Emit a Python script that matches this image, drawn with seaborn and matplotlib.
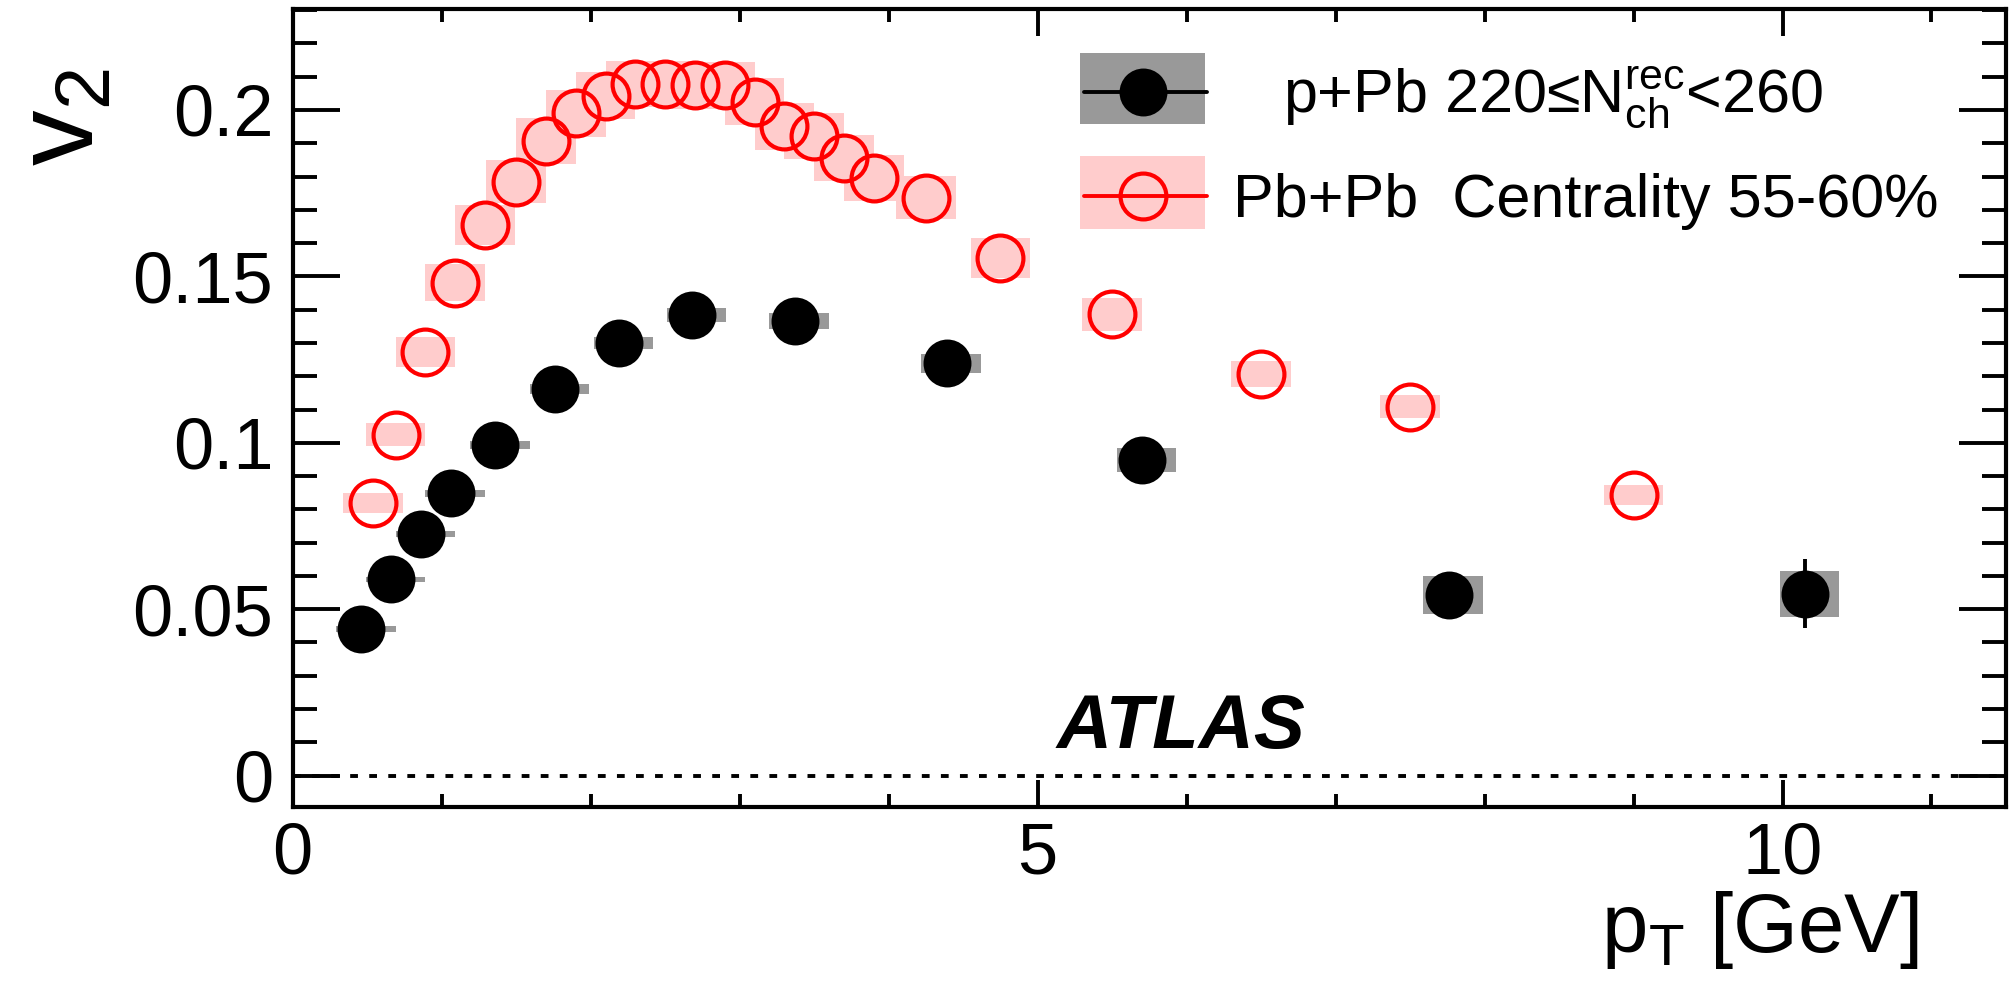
import numpy as np
import matplotlib
matplotlib.use("Agg")
import matplotlib.pyplot as plt
import seaborn as sns
from matplotlib.patches import Rectangle
from matplotlib.lines import Line2D
from matplotlib.ticker import MultipleLocator, FixedLocator, FixedFormatter

# ---------------- data ----------------
ppb_pt = [0.46, 0.66, 0.86, 1.06, 1.36, 1.76, 2.19, 2.68, 3.37, 4.39, 5.70, 7.76, 10.15]
ppb_v2 = [0.0440, 0.0590, 0.0725, 0.0848, 0.0994, 0.1163, 0.1299, 0.1384, 0.1366,
          0.1239, 0.0949, 0.0543, 0.0546]
ppb_stat = [0.0008, 0.0008, 0.0008, 0.0009, 0.0010, 0.0012, 0.0015, 0.0018, 0.0020,
            0.0025, 0.0035, 0.0060, 0.0104]
ppb_sys = [0.0008, 0.0008, 0.0009, 0.0010, 0.0012, 0.0015, 0.0018, 0.0020, 0.0025,
           0.0028, 0.0036, 0.0057, 0.0069]

pbpb_pt = [0.54, 0.69, 0.89, 1.09, 1.29, 1.50, 1.70, 1.90, 2.10, 2.30, 2.50, 2.70,
           2.90, 3.10, 3.30, 3.50, 3.70, 3.90, 4.25, 4.75, 5.50, 6.50, 7.50, 9.00]
pbpb_v2 = [0.0820, 0.1024, 0.1274, 0.1481, 0.1655, 0.1785, 0.1907, 0.1990, 0.2043,
           0.2078, 0.2078, 0.2074, 0.2074, 0.2025, 0.1951, 0.1922, 0.1856, 0.1796,
           0.1737, 0.1555, 0.1386, 0.1207, 0.1108, 0.0843]
pbpb_sys = [0.0030, 0.0035, 0.0045, 0.0055, 0.0060, 0.0065, 0.0070, 0.0070, 0.0070,
            0.0070, 0.0070, 0.0070, 0.0070, 0.0070, 0.0070, 0.0070, 0.0070, 0.0070,
            0.0065, 0.0060, 0.0050, 0.0040, 0.0035, 0.0030]

xticks = [0, 5, 10]
xtick_labels = ["0", "5", "10"]
yticks = [0, 0.05, 0.1, 0.15, 0.2]
ytick_labels = ["0", "0.05", "0.1", "0.15", "0.2"]

label_ppb = "p+Pb 220\u2264$N_{ch}^{rec}$<260"
label_pbpb = "Pb+Pb  Centrality 55-60%"

# ---------------- style ----------------
sns.set_style("ticks")
plt.rcParams["font.family"] = ["Liberation Sans", "DejaVu Sans"]
plt.rcParams["mathtext.default"] = "regular"
plt.rcParams["text.color"] = "black"
plt.rcParams["axes.labelcolor"] = "black"
plt.rcParams["xtick.color"] = "black"
plt.rcParams["ytick.color"] = "black"
plt.rcParams["axes.edgecolor"] = "black"

fig = plt.figure(figsize=(20.09, 9.89), dpi=100)
ax = fig.add_axes([0.1457, 0.1845, 0.9985 - 0.1457, 0.9904 - 0.1845])

pbpb_x = np.array(pbpb_pt)
pbpb_y = np.array(pbpb_v2)
pbpb_s = np.array(pbpb_sys)
ppb_x = np.array(ppb_pt)
ppb_y = np.array(ppb_v2)
ppb_s = np.array(ppb_sys)

# systematic boxes
ax.bar(pbpb_x, 2 * pbpb_s, bottom=pbpb_y - pbpb_s, width=0.4,
       color="#ffcccc", edgecolor="none", zorder=1)
ax.bar(ppb_x + 0.03, 2 * ppb_s, bottom=ppb_y - ppb_s, width=0.4,
       color="#999999", edgecolor="none", zorder=2)

# statistical error bars
ax.errorbar(ppb_x, ppb_y, yerr=ppb_stat, fmt="none", ecolor="black",
            elinewidth=2.8, capsize=0, zorder=3)

# markers
sns.lineplot(x=pbpb_x, y=pbpb_y, estimator=None, sort=False, linestyle="none",
             marker="o", markersize=33, markerfacecolor="none",
             markeredgecolor="red", markeredgewidth=3.0, color="red",
             legend=False, ax=ax, zorder=4)
sns.lineplot(x=ppb_x, y=ppb_y, estimator=None, sort=False, linestyle="none",
             marker="o", markersize=34.5, markerfacecolor="black",
             markeredgecolor="black", markeredgewidth=0, color="black",
             legend=False, ax=ax, zorder=5)

# zero line
ax.axhline(0, color="black", lw=2.8, ls=(0, (2.0, 2.9)), zorder=0)

# axes
ax.set_xlim(0, 11.5)
ax.set_ylim(-0.0093, 0.2302)
ax.xaxis.set_major_locator(FixedLocator(xticks))
ax.xaxis.set_major_formatter(FixedFormatter(xtick_labels))
ax.xaxis.set_minor_locator(MultipleLocator(1))
ax.yaxis.set_major_locator(FixedLocator(yticks))
ax.yaxis.set_major_formatter(FixedFormatter(ytick_labels))
ax.yaxis.set_minor_locator(MultipleLocator(0.01))

ax.tick_params(axis="both", which="both", direction="in", top=True, right=True,
               width=2.8, color="black", labelsize=52, labelcolor="black")
ax.tick_params(axis="x", which="major", length=19.5, pad=11)
ax.tick_params(axis="x", which="minor", length=9.5)
ax.tick_params(axis="y", which="major", length=34, pad=14)
ax.tick_params(axis="y", which="minor", length=17)
for sp in ax.spines.values():
    sp.set_linewidth(3)
    sp.set_color("black")
ax.grid(False)

ax.set_ylabel("$v_2$", fontsize=80, rotation=90, ha="center", va="center",
              rotation_mode="default", color="black")
ax.yaxis.set_label_coords(-0.1335, 0.865)
ax.set_xlabel("$p_T$ [GeV]", fontsize=60, ha="right", va="baseline", color="black")
ax.xaxis.set_label_coords(0.949, -0.183)

# ATLAS label
ax.text(5.13, 0.0082, "ATLAS", fontsize=55, fontweight="bold", fontstyle="italic",
        ha="left", va="baseline", color="black", zorder=6)

# legend (manual, ROOT style)
tr = ax.transAxes
hx0, hx1 = 0.4595, 0.5325
ax.add_patch(Rectangle((hx0, 0.8563), hx1 - hx0, 0.9454 - 0.8563, transform=tr,
                       facecolor="#999999", edgecolor="none", zorder=6))
ax.add_patch(Rectangle((hx0, 0.7246), hx1 - hx0, 0.816 - 0.7246, transform=tr,
                       facecolor="#ffcccc", edgecolor="none", zorder=6))
ax.add_line(Line2D([0.4617, 0.5337], [0.8969, 0.8969], transform=tr, color="black",
                   lw=2.8, zorder=7))
ax.add_line(Line2D([0.4617, 0.5337], [0.766, 0.766], transform=tr, color="red",
                   lw=2.8, zorder=7))
ax.add_line(Line2D([0.4962], [0.8969], transform=tr, linestyle="none", marker="o",
                   markersize=34.5, markerfacecolor="black", markeredgewidth=0,
                   zorder=8))
ax.add_line(Line2D([0.4962], [0.766], transform=tr, linestyle="none", marker="o",
                   markersize=33, markerfacecolor="none", markeredgecolor="red",
                   markeredgewidth=3.0, zorder=8))
ax.text(0.578, 0.8718, label_ppb, transform=tr, fontsize=44, ha="left",
        va="baseline", color="black", zorder=8)
ax.text(0.5488, 0.740, label_pbpb, transform=tr, fontsize=44, ha="left",
        va="baseline", color="black", zorder=8)

fig.savefig("out.png", dpi=100)
